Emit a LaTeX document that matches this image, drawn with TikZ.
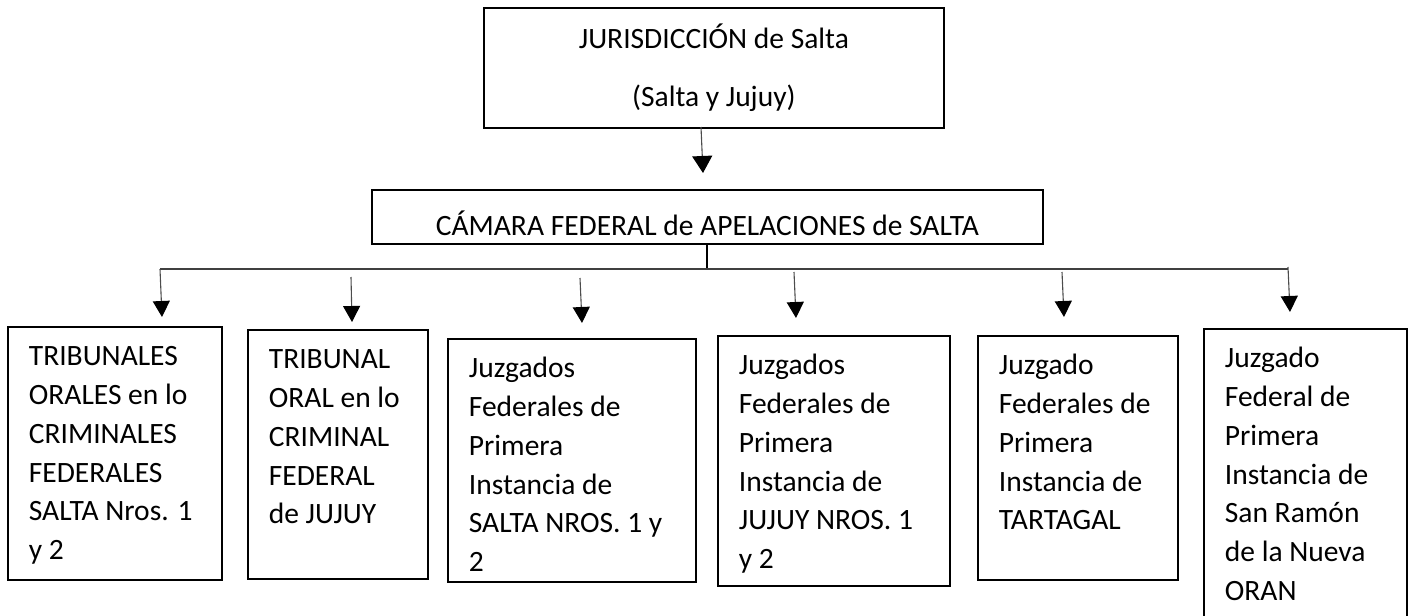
\documentclass[tikz,border=0pt]{standalone}
\usepackage{fontspec}
\setmainfont{Carlito}
\usetikzlibrary{arrows.meta}
\newcommand{\bxt}[3]{\parbox[t][#2][t]{#1}{\raggedright\leftskip=21pt\relax\rule{0pt}{39pt}#3}}
\begin{document}
\begin{tikzpicture}[x=1pt,y=-1pt,
  box/.style={draw,line width=1.8pt,inner sep=0pt,anchor=north west,font=\fontsize{29.5}{38.7}\selectfont},
  hline/.style={line width=1.3pt,draw=black!75},
  arr/.style={line width=1.1pt,draw=black!70,-{Triangle[width=17pt,length=16pt,black]}},
  bigarr/.style={arr,-{Triangle[width=20pt,length=17pt,black]}},
  stub/.style={line width=2.8pt}]
\useasboundingbox (0,0) rectangle (1409,616);
\clip (0,0) rectangle (1409,616);

\node[box] (top) at (483,7) {\parbox[t][120pt][t]{460pt}{\centering\rule{0pt}{41pt}JURISDICCIÓN de Salta\\[19.3pt](Salta y Jujuy)}};
\node[box] (cam) at (371,189) {\parbox[t][54pt][t]{671pt}{\centering\rule{0pt}{46pt}CÁMARA FEDERAL de APELACIONES de SALTA}};

\node[box] (b1) at (7,326) {\bxt{214pt}{253pt}{TRIBUNALES\\ORALES en lo\\CRIMINALES\\FEDERALES\\SALTA Nros. 1\\y 2}};
\node[box] (b2) at (247,329) {\bxt{180pt}{249pt}{TRIBUNAL\\ORAL en lo\\CRIMINAL\\FEDERAL\\de JUJUY}};
\node[box] (b3) at (447,338) {\bxt{248pt}{243pt}{Juzgados\\Federales de\\Primera\\Instancia de\\SALTA NROS. 1 y\\2}};
\node[box] (b4) at (717,335) {\bxt{232pt}{250pt}{Juzgados\\Federales de\\Primera\\Instancia de\\JUJUY NROS. 1\\y 2}};
\node[box] (b5) at (977,335) {\bxt{200pt}{244pt}{Juzgado\\Federales de\\Primera\\Instancia de\\TARTAGAL}};
\node[box] (b6) at (1203,328) {\bxt{203pt}{312pt}{Juzgado\\Federal de\\Primera\\Instancia de\\San Ramón\\de la Nueva\\ORAN}};

% top arrow
\coordinate (s0) at (701,127);
\coordinate (e0) at (703,173);
\draw[bigarr] (s0) -- (e0);

% junction and horizontal line
\coordinate (j) at (707,269);
\draw[stub] (cam.south -| j) -- (j);
\coordinate (hl) at (160,269);
\coordinate (hr) at (1288,269);
\draw[hline] (hl) -- (hr);

% arrows to boxes
\coordinate (s1) at (160,269);  \coordinate (e1) at (162,317);
\coordinate (s2) at (351,277);  \coordinate (e2) at (352,322);
\coordinate (s3) at (580,278);  \coordinate (e3) at (582,323);
\coordinate (s4) at (794,272);  \coordinate (e4) at (796,318);
\coordinate (s5) at (1062,272); \coordinate (e5) at (1064,317);
\coordinate (s6) at (1288,267); \coordinate (e6) at (1290,312);
\foreach \i in {1,...,6} {\draw[arr] (s\i) -- (e\i);}
\end{tikzpicture}
\end{document}
